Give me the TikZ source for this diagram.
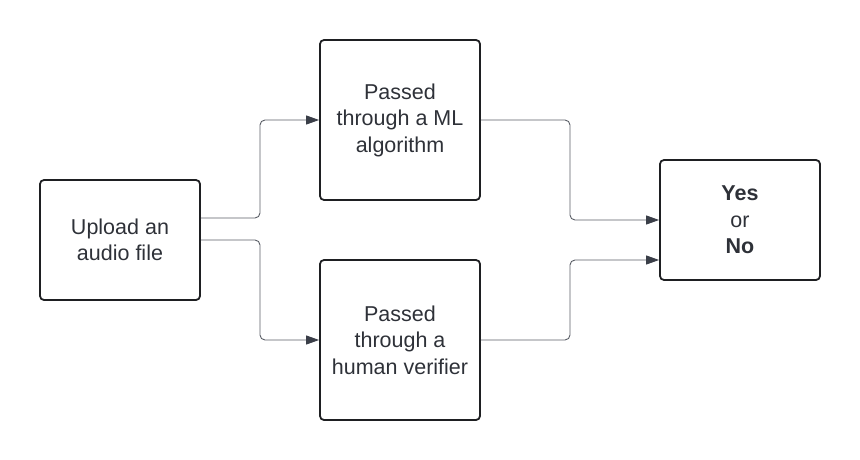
\documentclass[tikz,border=0pt]{standalone}
\usepackage{fontspec}
\setmainfont{Liberation Sans}
\usetikzlibrary{arrows.meta}
\definecolor{boxline}{HTML}{1E1F22}
\definecolor{conn}{HTML}{5A5E66}
\definecolor{txt}{HTML}{2E3138}
\definecolor{tip}{HTML}{3A3E48}
\begin{document}
\begin{tikzpicture}[x=1pt,y=-1pt,
  box/.style={draw=boxline,line width=1.8pt,rounded corners=4pt,minimum width=160pt,minimum height=160pt,align=center,text=txt,font=\fontsize{21.5}{26.5}\selectfont,inner sep=0pt},
  wide/.style={minimum height=120pt},
  conn/.style={draw=conn,line width=0.9pt,rounded corners=5pt,-{Triangle[length=13pt,width=9pt,fill=tip,color=tip]}}]
\useasboundingbox (0,0) rectangle (860,460);
\node[box,wide] (up) at (120,240) {Upload an\\audio file};
\node[box] (ml) at (400,120) {Passed\\through a ML\\algorithm};
\node[box] (hv) at (400,340) {Passed\\through a\\human verifier};
\node[box,wide] (yn) at (740,220) {\textbf{Yes}\\or\\\textbf{No}};
\draw[conn] ([yshift=22pt]up.east) -| (260,170) |- (ml.west);
\draw[conn] (up.east) -| (260,290) |- (hv.west);
\draw[conn] (ml.east) -| (570,170) |- (yn.west);
\draw[conn] (hv.east) -| (570,300) |- ([yshift=-40pt]yn.west);
\end{tikzpicture}
\end{document}
